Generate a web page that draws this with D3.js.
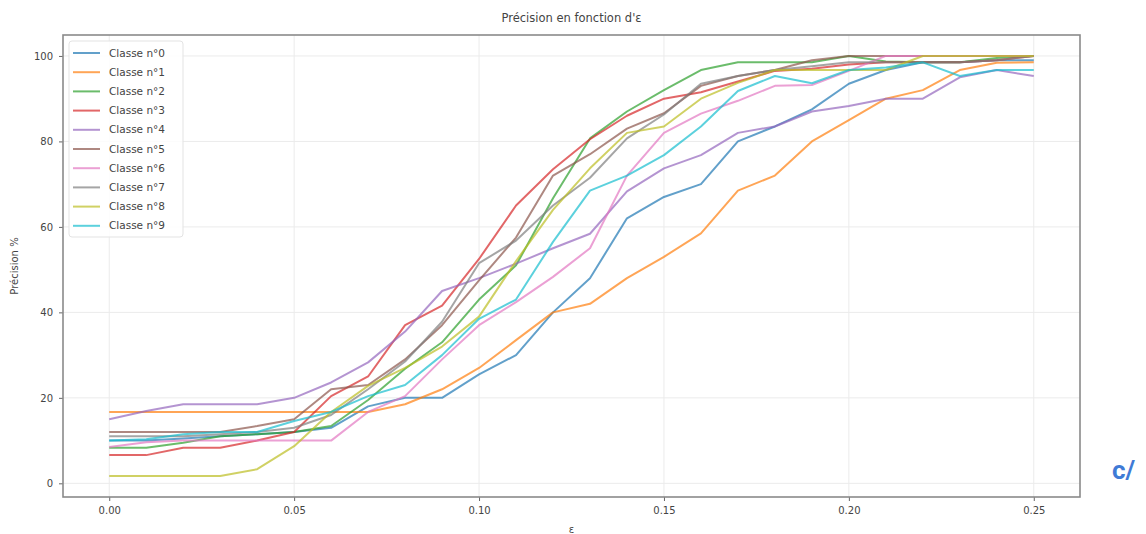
<!DOCTYPE html>
<html>
<head>
<meta charset="utf-8">
<script src="https://cdn.jsdelivr.net/npm/d3@7"></script>
<style>
  body { margin: 0; background: #fff; }
  svg { font-family: "DejaVu Sans", sans-serif; }
</style>
</head>
<body>
<div class="chart"></div>
<script>
// data
const eps = d3.range(26).map(i => +(i * 0.01).toFixed(2))
const classes = ["Classe n°0", "Classe n°1", "Classe n°2", "Classe n°3", "Classe n°4",
                 "Classe n°5", "Classe n°6", "Classe n°7", "Classe n°8", "Classe n°9"]
const c0 = [10, 10, 10.5, 11, 11.5, 12, 13, 18, 20, 20, 25.5, 30, 40, 48, 62, 67, 70, 80, 83.5, 87.5, 93.5, 96.7, 98.5, 98.5, 99, 99]
const c1 = [16.7, 16.7, 16.7, 16.7, 16.7, 16.7, 16.7, 16.7, 18.5, 22, 27, 33.5, 40, 42, 48, 53, 58.5, 68.5, 72, 80, 85, 90, 92, 96.7, 98.4, 98.5]
const c2 = [8.3, 8.3, 9.5, 11, 11.5, 12, 13.4, 19.5, 26.8, 33, 43, 51, 66.7, 80.7, 87, 92, 96.7, 98.5, 98.5, 98.5, 100, 98.7, 98.5, 98.5, 99.5, 100]
const c3 = [6.6, 6.6, 8.3, 8.3, 10, 12, 20.4, 25, 37, 41.6, 52.5, 65, 73.5, 80.5, 86, 90, 91.5, 94, 96.5, 97, 98, 98.5, 98.5, 98.5, 99, 100]
const c4 = [15, 16.9, 18.5, 18.5, 18.5, 20, 23.6, 28.3, 35.5, 45, 48, 51.4, 55, 58.4, 68.3, 73.7, 76.8, 82, 83.5, 87, 88.3, 90, 90, 95, 96.7, 95.3]
const c5 = [12, 12, 12, 12, 13.4, 15, 22, 23, 29, 37, 47.5, 57.5, 72, 77, 83, 86.6, 93, 95.3, 96.7, 99, 100, 100, 100, 100, 100, 100]
const c6 = [8.5, 9.6, 10, 10, 10, 10, 10, 16.7, 20.4, 29, 37, 42.4, 48.3, 55, 72, 82, 86.5, 89.5, 93, 93.2, 96.5, 100, 100, 100, 100, 100]
const c7 = [11, 11, 11, 11.5, 12, 13, 16, 22, 28.5, 37.8, 51.5, 56.8, 65, 71.5, 80.7, 86.3, 93.5, 95.3, 96.7, 97.6, 98.5, 98.5, 98.5, 98.5, 99, 100]
const c8 = [1.7, 1.7, 1.7, 1.7, 3.3, 8.7, 16.7, 22.8, 27, 32, 39, 52, 64, 73.7, 82, 83.5, 90, 93.7, 96.7, 96.7, 96.7, 96.7, 100, 100, 100, 100]
const c9 = [10, 10.3, 11.5, 12, 12, 14.6, 16.7, 20.4, 23, 30, 38.5, 43, 56.5, 68.5, 72, 76.8, 83.5, 91.8, 95.3, 93.6, 96.7, 97.3, 98.5, 95.3, 96.7, 96.7]
const series = [c0, c1, c2, c3, c4, c5, c6, c7, c8, c9]
const xTicks = [0, 0.05, 0.10, 0.15, 0.20, 0.25]
const yTicks = [0, 20, 40, 60, 80, 100]

const colors = ["#1f77b4", "#ff7f0e", "#2ca02c", "#d62728", "#9467bd",
                "#8c564b", "#e377c2", "#7f7f7f", "#bcbd22", "#17becf"]

let width = 1146, height = 534
var margin = {top: 35, right: 66, bottom: 37, left: 63}

const svg = d3.select('.chart').append("svg")
  .attr("width", width)
  .attr("height", height)

let x = d3.scaleLinear()
  .domain([-0.0125, 0.2625])
  .range([margin.left, width - margin.right])

let y = d3.scaleLinear()
  .domain([-3.2, 104.9])
  .range([height - margin.bottom, margin.top])

// grid
svg.append("g")
    .attr("stroke", "#ebebeb")
    .attr("stroke-width", 1)
  .selectAll("line.vx")
  .data(xTicks)
  .join("line")
    .attr("x1", d => x(d)).attr("x2", d => x(d))
    .attr("y1", margin.top).attr("y2", height - margin.bottom)

svg.append("g")
    .attr("stroke", "#ebebeb")
    .attr("stroke-width", 1)
  .selectAll("line.hy")
  .data(yTicks)
  .join("line")
    .attr("y1", d => y(d)).attr("y2", d => y(d))
    .attr("x1", margin.left).attr("x2", width - margin.right)

// lines
let line = d3.line()
  .x((d, i) => x(eps[i]))
  .y(d => y(d))

svg.append("g")
    .attr("fill", "none")
    .attr("stroke-width", 2)
    .attr("stroke-opacity", 0.7)
    .attr("stroke-linejoin", "round")
  .selectAll("path")
  .data(series)
  .join("path")
    .attr("stroke", (d, i) => colors[i])
    .attr("d", line)

// axes
let xAxis = g => g
  .attr("transform", `translate(0,${height - margin.bottom})`)
  .call(d3.axisBottom(x).tickValues(xTicks).tickFormat(d3.format(".2f")).tickSize(4).tickPadding(6))
  .call(g => g.select(".domain").remove())

let yAxis = g => g
  .attr("transform", `translate(${margin.left},0)`)
  .call(d3.axisLeft(y).tickValues(yTicks).tickSize(4).tickPadding(6))
  .call(g => g.select(".domain").remove())

svg.append("g").call(xAxis)
svg.append("g").call(yAxis)

svg.selectAll(".tick text")
  .attr("font-size", 10)
  .attr("fill", "#444")
  .attr("font-family", "DejaVu Sans, sans-serif")
svg.selectAll(".tick line").attr("stroke", "#666")

// frame
svg.append("rect")
  .attr("x", margin.left)
  .attr("y", margin.top)
  .attr("width", width - margin.left - margin.right)
  .attr("height", height - margin.top - margin.bottom)
  .attr("fill", "none")
  .attr("stroke", "#8a8a8a")
  .attr("stroke-width", 1.6)

// title and labels
svg.append("text")
  .attr("x", (margin.left + width - margin.right) / 2)
  .attr("y", 22)
  .attr("text-anchor", "middle")
  .attr("font-size", 11.5)
  .attr("fill", "#444")
  .text("Précision en fonction d'ε")

svg.append("text")
  .attr("x", (margin.left + width - margin.right) / 2)
  .attr("y", 533)
  .attr("text-anchor", "middle")
  .attr("font-size", 10)
  .attr("fill", "#444")
  .text("ε")

svg.append("text")
  .attr("transform", `translate(18,${(margin.top + height - margin.bottom) / 2}) rotate(-90)`)
  .attr("text-anchor", "middle")
  .attr("font-size", 10)
  .attr("fill", "#444")
  .text("Précision %")

// legend
const legend = svg.append("g")
  .attr("transform", `translate(${margin.left + 6},${margin.top + 6})`)

legend.append("rect")
  .attr("width", 114)
  .attr("height", 196)
  .attr("rx", 3)
  .attr("fill", "#fff")
  .attr("fill-opacity", 0.85)
  .attr("stroke", "#e3e3e3")

const item = legend.selectAll("g.item")
  .data(classes)
  .join("g")
    .attr("transform", (d, i) => `translate(0,${12 + i * 19.2})`)

item.append("line")
  .attr("x1", 4).attr("x2", 31)
  .attr("stroke", (d, i) => colors[i])
  .attr("stroke-width", 2)
  .attr("stroke-opacity", 0.7)

item.append("text")
  .attr("x", 40)
  .attr("dy", "0.35em")
  .attr("font-size", 10.5)
  .attr("fill", "#444")
  .text(d => d)

// stray label at the right edge
svg.append("text")
  .attr("x", 1112)
  .attr("y", 479)
  .attr("font-family", "Roboto, sans-serif")
  .attr("font-weight", "bold")
  .attr("font-size", 26)
  .attr("fill", "#3f7bd6")
  .text("c/")
</script>
</body>
</html>
